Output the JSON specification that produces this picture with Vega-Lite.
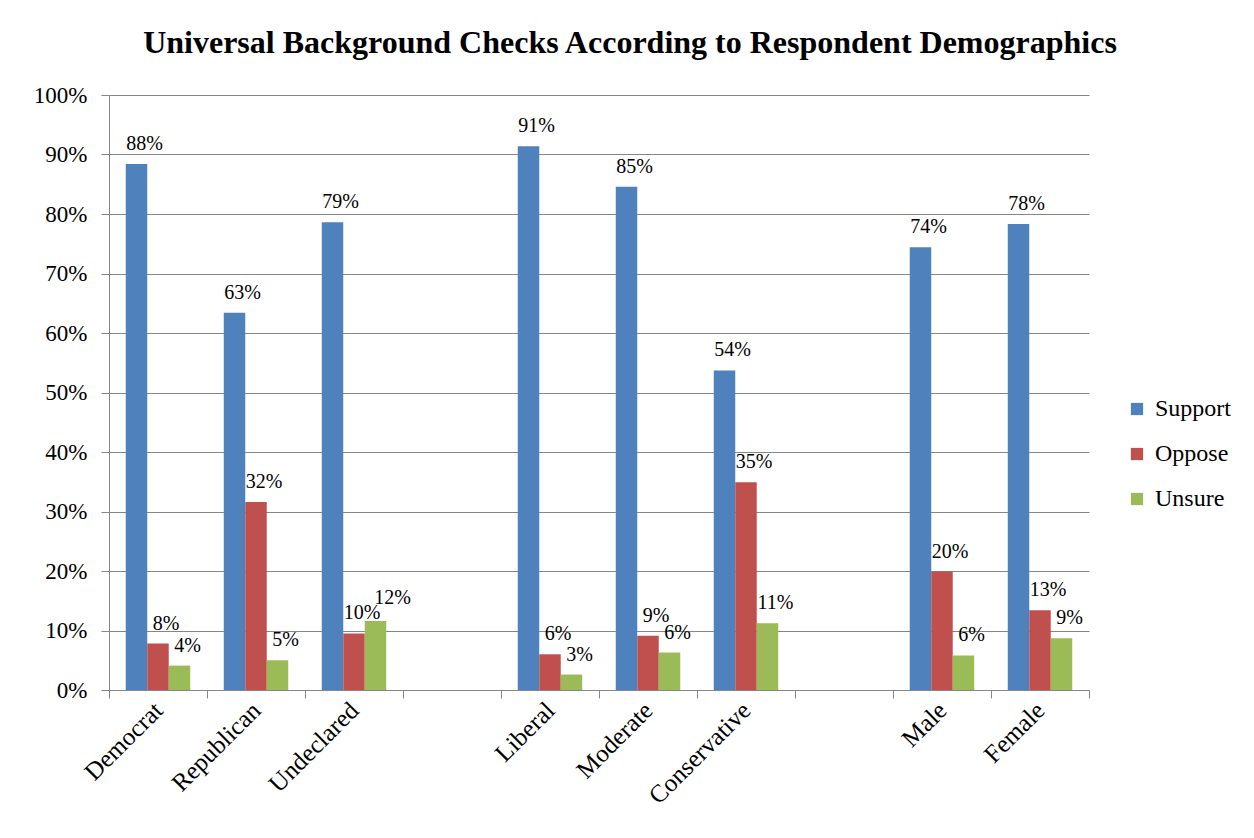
{
  "$schema": "https://vega.github.io/schema/vega-lite/v6.json",
  "autosize": {"type": "none"},
  "width": 980,
  "height": 595,
  "padding": {"left": 109, "top": 95, "right": 165, "bottom": 148},
  "background": "white",
  "title": {
    "text": "Universal Background Checks According to Respondent Demographics",
    "font": "Liberation Serif",
    "fontSize": 32,
    "fontWeight": "bold",
    "color": "black",
    "anchor": "middle",
    "dx": 31,
    "offset": 24
  },
  "data": {
    "values": [
      {"group": "Democrat", "response": "Support", "value": 0.884},
      {"group": "Democrat", "response": "Oppose", "value": 0.078},
      {"group": "Democrat", "response": "Unsure", "value": 0.041},
      {"group": "Republican", "response": "Support", "value": 0.634},
      {"group": "Republican", "response": "Oppose", "value": 0.316},
      {"group": "Republican", "response": "Unsure", "value": 0.050},
      {"group": "Undeclared", "response": "Support", "value": 0.786},
      {"group": "Undeclared", "response": "Oppose", "value": 0.095},
      {"group": "Undeclared", "response": "Unsure", "value": 0.116},
      {"group": "Liberal", "response": "Support", "value": 0.914},
      {"group": "Liberal", "response": "Oppose", "value": 0.060},
      {"group": "Liberal", "response": "Unsure", "value": 0.026},
      {"group": "Moderate", "response": "Support", "value": 0.846},
      {"group": "Moderate", "response": "Oppose", "value": 0.091},
      {"group": "Moderate", "response": "Unsure", "value": 0.063},
      {"group": "Conservative", "response": "Support", "value": 0.537},
      {"group": "Conservative", "response": "Oppose", "value": 0.349},
      {"group": "Conservative", "response": "Unsure", "value": 0.112},
      {"group": "Male", "response": "Support", "value": 0.744},
      {"group": "Male", "response": "Oppose", "value": 0.199},
      {"group": "Male", "response": "Unsure", "value": 0.058},
      {"group": "Female", "response": "Support", "value": 0.783},
      {"group": "Female", "response": "Oppose", "value": 0.134},
      {"group": "Female", "response": "Unsure", "value": 0.087}
    ]
  },
  "encoding": {
    "x": {
      "field": "group",
      "type": "nominal",
      "scale": {
        "domain": ["Democrat", "Republican", "Undeclared", " ", "Liberal", "Moderate", "Conservative", "  ", "Male", "Female"],
        "paddingInner": 0,
        "paddingOuter": 0
      },
      "axis": {
        "title": null,
        "labelAngle": -45,
        "labelAlign": "right",
        "labelBaseline": "middle",
        "labelFont": "Liberation Serif",
        "labelFontSize": 25,
        "labelColor": "black",
        "labelPadding": 8,
        "tickBand": "extent",
        "tickColor": "#868686",
        "tickSize": 8,
        "domainColor": "#868686",
        "grid": false
      }
    },
    "xOffset": {
      "field": "response",
      "type": "nominal",
      "sort": ["Support", "Oppose", "Unsure"],
      "scale": {"paddingInner": 0, "paddingOuter": 0.78}
    },
    "y": {
      "field": "value",
      "type": "quantitative",
      "scale": {"domain": [0, 1], "nice": false},
      "axis": {
        "title": null,
        "format": ".0%",
        "values": [0, 0.1, 0.2, 0.3, 0.4, 0.5, 0.6, 0.7, 0.8, 0.9, 1],
        "labelFont": "Liberation Serif",
        "labelFontSize": 23,
        "labelColor": "black",
        "labelPadding": 14,
        "tickColor": "#868686",
        "tickSize": 8,
        "domainColor": "#868686",
        "gridColor": "#868686",
        "gridWidth": 1
      }
    }
  },
  "layer": [
    {
      "mark": {"type": "bar"},
      "encoding": {
        "color": {
          "field": "response",
          "type": "nominal",
          "sort": ["Support", "Oppose", "Unsure"],
          "scale": {"domain": ["Support", "Oppose", "Unsure"], "range": ["#4F81BD", "#C0504D", "#9BBB59"]},
          "legend": {
            "title": null,
            "orient": "none",
            "legendX": 1016,
            "legendY": 302,
            "symbolType": "square",
            "symbolSize": 150,
            "symbolStrokeWidth": 0,
            "labelFont": "Liberation Serif",
            "labelFontSize": 24,
            "labelColor": "black",
            "labelOffset": 6,
            "rowPadding": 21
          }
        }
      }
    },
    {
      "transform": [{"filter": "!(datum.group === 'Undeclared' && datum.response === 'Unsure')"}],
      "mark": {"type": "text", "baseline": "alphabetic", "dy": -14, "dx": 8, "font": "Liberation Serif", "fontSize": 20, "color": "black"},
      "encoding": {
        "text": {"field": "value", "type": "quantitative", "format": ".0%"}
      }
    },
    {
      "transform": [{"filter": "datum.group === 'Undeclared' && datum.response === 'Unsure'"}],
      "mark": {"type": "text", "baseline": "alphabetic", "dy": -17, "dx": 17, "font": "Liberation Serif", "fontSize": 20, "color": "black"},
      "encoding": {
        "text": {"field": "value", "type": "quantitative", "format": ".0%"}
      }
    }
  ],
  "config": {
    "view": {"stroke": null},
    "axis": {"domainWidth": 1, "tickWidth": 1}
  }
}
